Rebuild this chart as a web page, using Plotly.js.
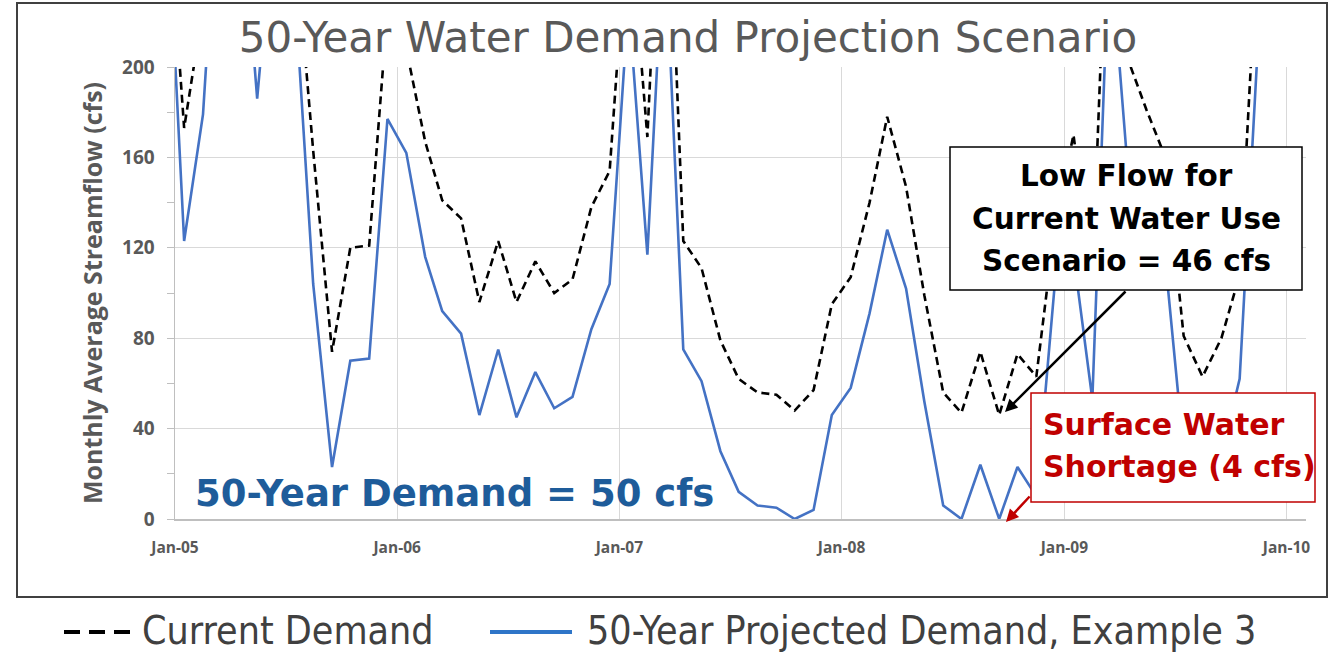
<!DOCTYPE html>
<html>
<head>
<meta charset="utf-8">
<script src="https://cdn.plot.ly/plotly-3.0.1.min.js"></script>
<style>html,body{margin:0;padding:0;background:#fff;}#chart{width:1343px;height:654px;}</style>
</head>
<body>
<div id="chart"></div>
<script>
// ---- data (monthly average streamflow, cfs) ----
const months = ['2004-12',
 '2005-01','2005-02','2005-03','2005-04','2005-05','2005-06','2005-07','2005-08','2005-09','2005-10','2005-11','2005-12',
 '2006-01','2006-02','2006-03','2006-04','2006-05','2006-06','2006-07','2006-08','2006-09','2006-10','2006-11','2006-12',
 '2007-01','2007-02','2007-03','2007-04','2007-05','2007-06','2007-07','2007-08','2007-09','2007-10','2007-11','2007-12',
 '2008-01','2008-02','2008-03','2008-04','2008-05','2008-06','2008-07','2008-08','2008-09','2008-10','2008-11','2008-12',
 '2009-01','2009-02','2009-03','2009-04','2009-05','2009-06','2009-07','2009-08','2009-09','2009-10','2009-11','2009-12'];
const currentDemand = [291,
 173,226,340,330,290,320,261,163,74,120,121,225,
 208,167,141,133,96,123,96,114,100,106,138,154,
 272,169,330,123,111,79,62,56,55,48,57,95,
 107,140,178,147,99,56,47,74,46,73,63,129,
 170,107,303,203,181,160,81,63,80,108,264,300];
const projectedDemand = [290,
 123,179,298,288,186,280,237,104,23,70,71,177,
 162,116,92,82,46,75,45,65,49,54,84,104,
 229,117,263,75,61,30,12,6,5,0,4,46,
 58,91,128,102,52,6,0,24,0,23,10,103,
 117,53,257,152,135,114,30,8,28,62,215,260];
const yTicks = [0,40,80,120,160,200];
const seriesNames = ['Current Demand','50-Year Projected Demand, Example 3'];

// ---- layout helpers ----
const M = {l:175, r:37, t:67, b:135};
const W = 1343, H = 654;
const PW = W - M.l - M.r, PH = H - M.t - M.b;
const X = px => (px - M.l) / PW;
const Y = py => (H - M.b - py) / PH;

const xDates = months.map(m => m + '-16');

const traces = [
  {x: xDates, y: currentDemand, name: seriesNames[0], type: 'scatter', mode: 'lines',
   line: {color: '#000000', width: 2.6, dash: '8px,5px'}, hoverinfo: 'x+y'},
  {x: xDates, y: projectedDemand, name: seriesNames[1], type: 'scatter', mode: 'lines',
   line: {color: '#4472C4', width: 2.6}, hoverinfo: 'x+y'}
];

const boldFont = 'DejaVu Sans, Noto Sans, sans-serif';
const ann = [];
function txt(text, px, py, size, color, anchor) {
  ann.push({text: text, xref: 'paper', yref: 'paper', x: X(px), y: Y(py),
    xanchor: anchor || 'center', yanchor: 'middle', showarrow: false,
    font: {family: boldFont, size: size, color: color, weight: 'bold'}});
}
txt('50-Year Demand = 50 cfs', 454, 493, 37, '#1E5C9A');
txt('Low Flow for', 1126, 176, 29.5, '#000000');
txt('Current Water Use', 1126, 219, 29.5, '#000000');
txt('Scenario = 46 cfs', 1126, 261, 29.5, '#000000');
txt('Surface Water', 1041, 424, 30, '#C00000', 'left');
txt('Shortage (4 cfs)', 1041, 466, 30, '#C00000', 'left');

// arrows
ann.push({text: '', xref: 'paper', yref: 'paper', x: X(1005), y: Y(412), ax: 122, ay: -122,
  showarrow: true, arrowhead: 2, arrowsize: 1, arrowwidth: 2.5, arrowcolor: '#000000', standoff: 0});
ann.push({text: '', xref: 'paper', yref: 'paper', x: X(1006), y: Y(522), ax: 25, ay: -27,
  showarrow: true, arrowhead: 2, arrowsize: 1, arrowwidth: 2.5, arrowcolor: '#C00000', standoff: 0});

// legend text
const legFont = 'DejaVu Sans Condensed, Open Sans, sans-serif';
ann.push({text: seriesNames[0], xref: 'paper', yref: 'paper', x: X(140), y: Y(630), xanchor: 'left', yanchor: 'middle',
  showarrow: false, font: {family: legFont, size: 39, color: '#404040'}});
ann.push({text: seriesNames[1], xref: 'paper', yref: 'paper', x: X(585), y: Y(630), xanchor: 'left', yanchor: 'middle',
  showarrow: false, font: {family: legFont, size: 39, color: '#404040'}});

const shapes = [
  // outer chart border
  {type: 'rect', xref: 'paper', yref: 'paper', x0: X(17), x1: X(1327), y0: Y(597), y1: Y(3),
   line: {color: '#404040', width: 2}, fillcolor: 'rgba(0,0,0,0)', layer: 'below'},
  // black callout box
  {type: 'rect', xref: 'paper', yref: 'paper', x0: X(950), x1: X(1302), y0: Y(290), y1: Y(147),
   line: {color: '#000000', width: 1.5}, fillcolor: '#ffffff', layer: 'above'},
  // red callout box
  {type: 'rect', xref: 'paper', yref: 'paper', x0: X(1031), x1: X(1315), y0: Y(502), y1: Y(393),
   line: {color: '#C00000', width: 1.5}, fillcolor: '#ffffff', layer: 'above'},
  // legend symbols
  {type: 'line', xref: 'paper', yref: 'paper', x0: X(64), x1: X(134), y0: Y(632), y1: Y(632),
   line: {color: '#000000', width: 4, dash: '16px,9px'}},
  {type: 'line', xref: 'paper', yref: 'paper', x0: X(490), x1: X(572), y0: Y(632), y1: Y(632),
   line: {color: '#2E75C8', width: 4}}
];

const layout = {
  width: W, height: H,
  margin: M,
  paper_bgcolor: '#ffffff', plot_bgcolor: '#ffffff',
  showlegend: false,
  title: {text: '50-Year Water Demand Projection Scenario', x: 688 / W, xref: 'container', xanchor: 'center',
    y: 1 - 37 / H, yref: 'container', yanchor: 'middle',
    font: {family: 'DejaVu Sans, sans-serif', size: 42, color: '#595959'}},
  xaxis: {type: 'date', range: ['2005-01-01', '2010-02-02'], tick0: '2005-01-01', dtick: 'M12',
    tickformat: '%b-%y', showgrid: true, gridcolor: '#d9d9d9', gridwidth: 1,
    showline: true, linecolor: '#bfbfbf', linewidth: 1.5, ticks: '', zeroline: false,
    tickfont: {family: 'Open Sans, sans-serif', size: 15.5, color: '#595959', weight: 'bold'},
    ticklabelstandoff: 14, fixedrange: true},
  yaxis: {range: [0, 200], tickvals: yTicks, showgrid: true, gridcolor: '#d9d9d9', gridwidth: 1,
    showline: true, linecolor: '#bfbfbf', linewidth: 1.5, ticks: 'outside', ticklen: 7, tickcolor: '#bfbfbf',
    minor: {dtick: 20, ticks: 'outside', ticklen: 7, tickcolor: '#bfbfbf', showgrid: false},
    zeroline: false,
    tickfont: {family: 'Open Sans, sans-serif', size: 19, color: '#595959', weight: 'bold'},
    ticklabelstandoff: 8,
    title: {text: 'Monthly Average Streamflow (cfs)', standoff: 12,
      font: {family: 'Open Sans, sans-serif', size: 25, color: '#595959', weight: 'bold'}},
    fixedrange: true},
  shapes: shapes,
  annotations: ann
};

Plotly.newPlot('chart', traces, layout, {displayModeBar: false, staticPlot: true});
</script>
</body>
</html>
